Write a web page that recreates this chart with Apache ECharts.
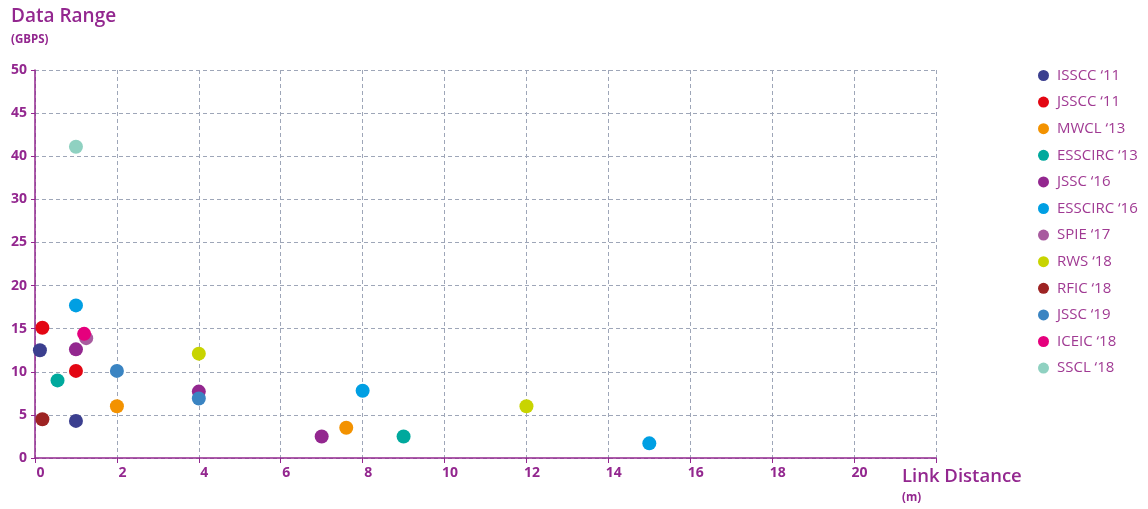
<!DOCTYPE html>
<html>
<head>
<meta charset="utf-8">
<script src="https://cdn.jsdelivr.net/npm/echarts@6/dist/echarts.min.js"></script>
<style>
  html, body { margin: 0; padding: 0; background: #fff; }
  #chart { width: 1148px; height: 509px; }
</style>
</head>
<body>
<div id="chart"></div>
<script>
// series names and colours (legend order)
const seriesNames = ['ISSCC ‘11', 'JSSCC ‘11', 'MWCL ‘13', 'ESSCIRC ‘13', 'JSSC ‘16', 'ESSCIRC ‘16',
  'SPIE ‘17', 'RWS ‘18', 'RFIC ‘18', 'JSSC ‘19', 'ICEIC ‘18', 'SSCL ‘18'];
const seriesColors = ['#3b3f8f', '#e30613', '#f39200', '#00a99d', '#93278f', '#009fe3',
  '#a85b9f', '#c8d400', '#9d2323', '#3a84c2', '#e5007d', '#8fd1c1'];

// points per series: [link distance (m), data range (Gbps)]
const isscc11 = [[0.12, 12.5], [1.0, 4.3]];
const jsscc11 = [[0.18, 15.1], [1.0, 10.1]];
const mwcl13 = [[2.0, 6.0], [7.6, 3.5]];
const esscirc13 = [[0.55, 9.0], [9.0, 2.5]];
const jssc16 = [[1.0, 12.6], [4.0, 7.7], [7.0, 2.5]];
const esscirc16 = [[1.0, 17.7], [8.0, 7.8], [15.0, 1.7]];
const spie17 = [[1.25, 13.9]];
const rws18 = [[4.0, 12.1], [12.0, 6.0]];
const rfic18 = [[0.18, 4.5]];
const jssc19 = [[2.0, 10.1], [4.0, 6.9]];
const iceic18 = [[1.2, 14.4]];
const sscl18 = [[1.0, 41.1]];

const seriesData = [isscc11, jsscc11, mwcl13, esscirc13, jssc16, esscirc16,
  spie17, rws18, rfic18, jssc19, iceic18, sscl18];

// y tick labels as printed on the original (note: no 35)
const yTickLabels = ['0', '5', '10', '15', '20', '25', '30', '40', '45', '50'];

// the original axis skips 35, so values above 30 sit 5 lower on the linear scale
const toAxis = v => (v > 30 ? v - 5 : v);

const purple = '#93278f';
const gridColor = '#9ea6b8';
const font = '"Open Sans", sans-serif';

const chart = echarts.init(document.getElementById('chart'));

chart.setOption({
  animation: false,
  title: [
    {
      text: 'Data Range',
      subtext: '(GBPS)',
      left: 6,
      top: 2,
      itemGap: 8,
      textStyle: { color: purple, fontSize: 19, fontWeight: 600, fontFamily: font },
      subtextStyle: { color: purple, fontSize: 11.5, fontWeight: 700, fontFamily: font }
    },
    {
      text: 'Link Distance',
      subtext: '(m)',
      left: 897,
      top: 462,
      itemGap: 6,
      textStyle: { color: purple, fontSize: 18.5, fontWeight: 600, fontFamily: font },
      subtextStyle: { color: purple, fontSize: 11.5, fontWeight: 700, fontFamily: font }
    }
  ],
  legend: {
    orient: 'vertical',
    left: 1033,
    top: 63,
    itemWidth: 11,
    itemHeight: 11,
    itemGap: 11.6,
    icon: 'circle',
    textStyle: { color: '#a03a93', fontSize: 15, fontFamily: font, padding: [0, 0, 0, 3] },
    data: seriesNames
  },
  grid: {
    left: 35,
    right: 1148 - 936,
    top: 70,
    bottom: 509 - 458,
    containLabel: false
  },
  xAxis: {
    type: 'value',
    min: 0,
    max: 22,
    interval: 2,
    axisLine: { lineStyle: { color: purple, width: 1.5 } },
    axisTick: { show: true, length: 5, lineStyle: { color: purple, width: 1 } },
    axisLabel: {
      color: purple, fontSize: 14, fontWeight: 700, fontFamily: font, margin: 8,
      padding: [0, 0, 0, 11],
      formatter: v => (v === 22 ? '' : String(v))
    },
    splitLine: { show: true, lineStyle: { color: gridColor, type: [4, 3], width: 1 } }
  },
  yAxis: {
    type: 'value',
    min: 0,
    max: 45,
    interval: 5,
    axisLine: { show: true, lineStyle: { color: purple, width: 1.5 } },
    axisTick: { show: true, length: 4, lineStyle: { color: purple, width: 1 } },
    axisLabel: {
      color: purple, fontSize: 14, fontWeight: 700, fontFamily: font, margin: 8,
      formatter: v => yTickLabels[Math.round(v / 5)]
    },
    splitLine: { show: true, lineStyle: { color: gridColor, type: [4, 3], width: 1 } }
  },
  series: seriesNames.map((name, i) => ({
    name: name,
    type: 'scatter',
    symbolSize: 14,
    itemStyle: { color: seriesColors[i], opacity: 1 },
    data: seriesData[i].map(p => [p[0], toAxis(p[1])])
  }))
});
</script>
</body>
</html>
